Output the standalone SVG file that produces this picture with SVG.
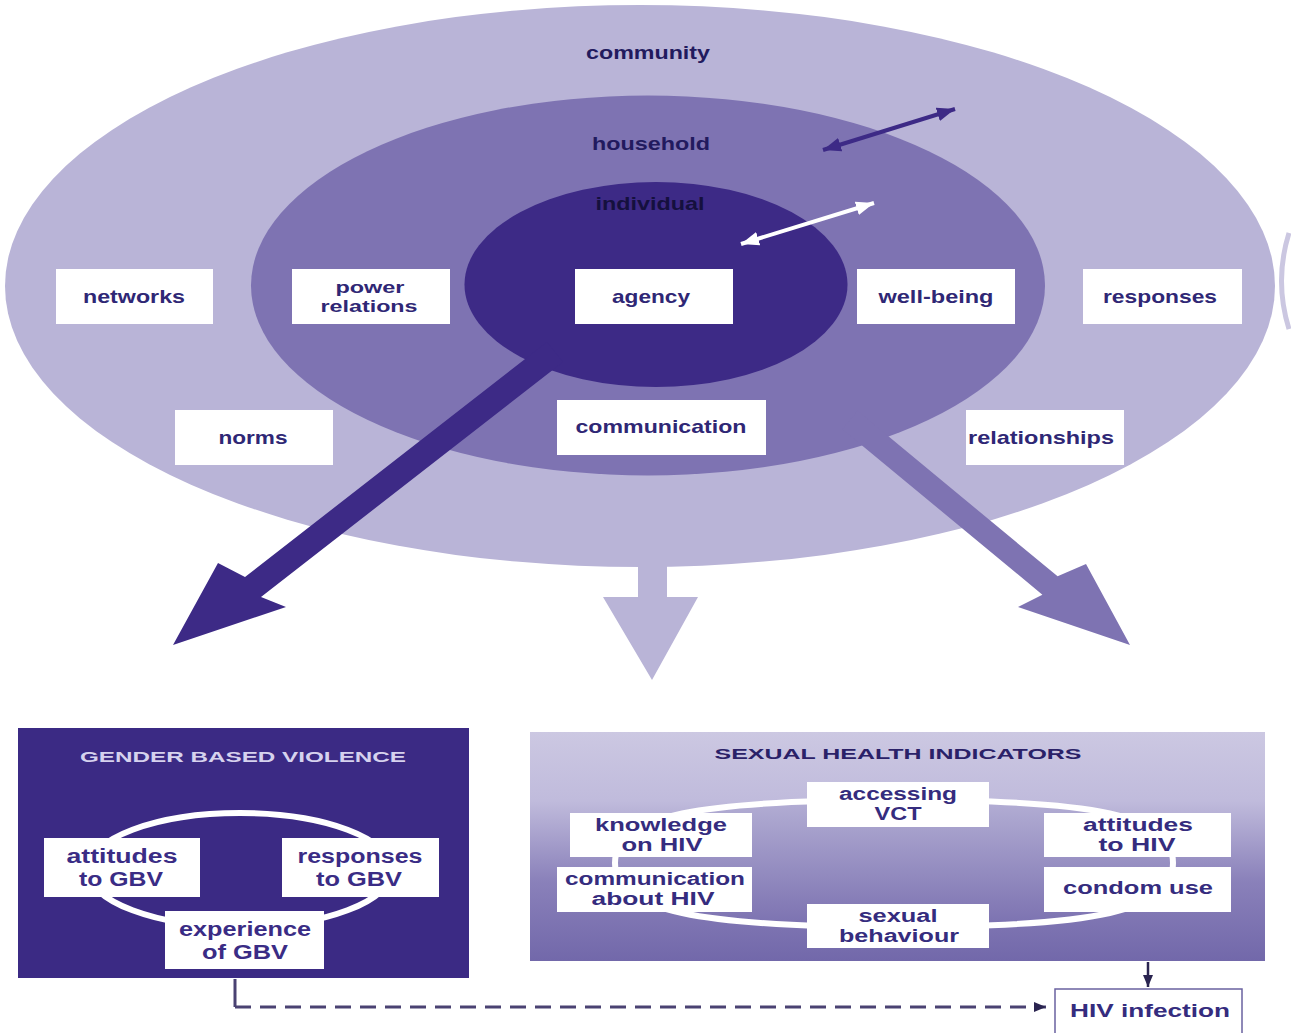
<svg xmlns="http://www.w3.org/2000/svg" width="1291" height="1033" viewBox="0 0 1291 1033">
<style>
  .lvl{font-family:"Liberation Sans",Arial,sans-serif;font-weight:700;font-size:19px;fill:#221a5e;text-anchor:middle;dominant-baseline:central}
  .box{fill:#ffffff}
  .lbl{font-family:"Liberation Sans",Arial,sans-serif;font-weight:700;font-size:19px;fill:#2f2775;text-anchor:middle;dominant-baseline:central}
  .lbl2{font-family:"Liberation Sans",Arial,sans-serif;font-weight:700;font-size:16px;fill:#2f2775;text-anchor:middle;dominant-baseline:central}
  .gbv{font-family:"Liberation Sans",Arial,sans-serif;font-weight:700;font-size:20px;fill:#3a2c85;text-anchor:middle;dominant-baseline:central}
  .shi{font-family:"Liberation Sans",Arial,sans-serif;font-weight:700;font-size:17.5px;fill:#352c7e;text-anchor:middle;dominant-baseline:central}
  .title{font-family:"Liberation Sans",Arial,sans-serif;font-weight:700;font-size:14px;text-anchor:middle;dominant-baseline:central}
</style>
<defs>
  <linearGradient id="shiGrad" x1="0" y1="0" x2="0" y2="1">
    <stop offset="0" stop-color="#ccc8e2"/>
    <stop offset="0.3" stop-color="#c0bbdc"/>
    <stop offset="0.65" stop-color="#8a81ba"/>
    <stop offset="1" stop-color="#7268aa"/>
  </linearGradient>
  <linearGradient id="ringGrad" x1="0" y1="0" x2="0" y2="1">
    <stop offset="0" stop-color="#b3aed4"/>
    <stop offset="1" stop-color="#7b71b0"/>
  </linearGradient>
  <marker id="hDark" viewBox="0 0 18 14" refX="18" refY="7" markerWidth="18" markerHeight="14" markerUnits="userSpaceOnUse" orient="auto-start-reverse">
    <path d="M0,0 L18,7 L0,14 z" fill="#3d2a86"/>
  </marker>
  <marker id="hWhite" viewBox="0 0 18 14" refX="18" refY="7" markerWidth="18" markerHeight="14" markerUnits="userSpaceOnUse" orient="auto-start-reverse">
    <path d="M0,0 L18,7 L0,14 z" fill="#ffffff"/>
  </marker>
  <marker id="hSmall" viewBox="0 0 12 10" refX="12" refY="5" markerWidth="12" markerHeight="10" markerUnits="userSpaceOnUse" orient="auto">
    <path d="M0,0 L12,5 L0,10 z" fill="#2a2450"/>
  </marker>
</defs>
<rect width="1291" height="1033" fill="#ffffff"/>

<!-- levels -->
<g id="community">
  <ellipse cx="640" cy="286" rx="635" ry="281" fill="#b9b4d7"/>
</g>
<path d="M1289,233 Q1274,281 1289,329" fill="none" stroke="#cbc7e1" stroke-width="5"/>
<g id="household">
  <ellipse cx="648" cy="285.5" rx="397" ry="190" fill="#7e73b2"/>
</g>
<g id="individual">
  <ellipse cx="656" cy="284.5" rx="191.5" ry="102.5" fill="#3d2a86"/>
</g>

<!-- connectors -->
<g id="connectors">
  <polygon points="547,342 563,362 261,597 286,607 173,645 218,563 245,577" fill="#3d2a86"/>
  <polygon points="857.6,410.8 1057.6,576.3 1086,564 1130,645 1018,607 1042.4,594.7 842.4,429.2" fill="#7e73b2"/>
  <polygon points="638,540 667,540 667,597 698,597 652,680 603,597 638,597" fill="#b9b4d7"/>
  <line x1="823" y1="150" x2="955" y2="109" stroke="#3d2a86" stroke-width="4" marker-start="url(#hDark)" marker-end="url(#hDark)"/>
  <line x1="741" y1="244" x2="874" y2="203" stroke="#ffffff" stroke-width="4" marker-start="url(#hWhite)" marker-end="url(#hWhite)"/>
  <line x1="1148" y1="962" x2="1148" y2="987" stroke="#2a2450" stroke-width="2.5" marker-end="url(#hSmall)"/>
  <line x1="235" y1="979" x2="235" y2="1007" stroke="#4a4272" stroke-width="3"/>
  <path d="M235,1007 H1046" fill="none" stroke="#4a4272" stroke-width="3" stroke-dasharray="16 9" marker-end="url(#hSmall)"/>
</g>

<text class="lvl" x="648" y="52" textLength="124" lengthAdjust="spacingAndGlyphs">community</text>
<text class="lvl" x="651" y="143" textLength="118" lengthAdjust="spacingAndGlyphs">household</text>
<text class="lvl" x="650" y="203" textLength="109" lengthAdjust="spacingAndGlyphs" style="fill:#15103e">individual</text>

<g id="networks"><rect class="box" x="56" y="269" width="157" height="55"/><text class="lbl" x="134" y="296" textLength="102" lengthAdjust="spacingAndGlyphs">networks</text></g>
<g id="power-relations"><rect class="box" x="292" y="269" width="158" height="55"/><text class="lbl2" x="370" y="287" textLength="69" lengthAdjust="spacingAndGlyphs">power</text><text class="lbl2" x="369" y="306" textLength="97" lengthAdjust="spacingAndGlyphs">relations</text></g>
<g id="agency"><rect class="box" x="575" y="269" width="158" height="55"/><text class="lbl" x="651" y="296" textLength="78" lengthAdjust="spacingAndGlyphs">agency</text></g>
<g id="well-being"><rect class="box" x="857" y="269" width="158" height="55"/><text class="lbl" x="936" y="296" textLength="115" lengthAdjust="spacingAndGlyphs">well-being</text></g>
<g id="responses"><rect class="box" x="1083" y="269" width="159" height="55"/><text class="lbl" x="1160" y="296" textLength="114" lengthAdjust="spacingAndGlyphs">responses</text></g>
<g id="norms"><rect class="box" x="175" y="410" width="158" height="55"/><text class="lbl" x="253" y="437" textLength="69" lengthAdjust="spacingAndGlyphs">norms</text></g>
<g id="communication"><rect class="box" x="557" y="400" width="209" height="55"/><text class="lbl" x="661" y="426" textLength="171" lengthAdjust="spacingAndGlyphs">communication</text></g>
<g id="relationships"><rect class="box" x="966" y="410" width="158" height="55"/><text class="lbl" x="1041" y="437" textLength="146" lengthAdjust="spacingAndGlyphs">relationships</text></g>

<!-- Gender based violence -->
<g id="gbv">
  <rect x="18" y="728" width="451" height="250" fill="#3b2a84"/>
  <text class="title" x="243" y="757" textLength="326" lengthAdjust="spacingAndGlyphs" style="fill:#d6d2ee">GENDER BASED VIOLENCE</text>
  <ellipse cx="240" cy="870" rx="152" ry="57" fill="none" stroke="#ffffff" stroke-width="6"/>
</g>
<g id="attitudes-gbv"><rect class="box" x="44" y="838" width="156" height="59"/><text class="gbv" x="122" y="856" textLength="111" lengthAdjust="spacingAndGlyphs">attitudes</text><text class="gbv" x="121" y="879" textLength="84" lengthAdjust="spacingAndGlyphs">to GBV</text></g>
<g id="responses-gbv"><rect class="box" x="282" y="838" width="157" height="59"/><text class="gbv" x="360" y="856" textLength="125" lengthAdjust="spacingAndGlyphs">responses</text><text class="gbv" x="359" y="879" textLength="86" lengthAdjust="spacingAndGlyphs">to GBV</text></g>
<g id="experience-gbv"><rect class="box" x="165" y="911" width="159" height="58"/><text class="gbv" x="245" y="929" textLength="132" lengthAdjust="spacingAndGlyphs">experience</text><text class="gbv" x="245" y="952" textLength="86" lengthAdjust="spacingAndGlyphs">of GBV</text></g>

<!-- Sexual health indicators -->
<g id="shi">
  <rect x="530" y="732" width="735" height="229" fill="url(#shiGrad)"/>
  <text class="title" x="898" y="754" textLength="367" lengthAdjust="spacingAndGlyphs" style="fill:#2a2168">SEXUAL HEALTH INDICATORS</text>
  <path d="M615,863 C615,815 700,800 898,800 C1096,800 1173,815 1173,863 C1173,911 1096,927 898,927 C700,927 615,911 615,863 Z" fill="url(#ringGrad)" stroke="#ffffff" stroke-width="6"/>
</g>
<g id="accessing-vct"><rect class="box" x="807" y="782" width="182" height="45"/><text class="shi" x="898" y="794" textLength="118" lengthAdjust="spacingAndGlyphs">accessing</text><text class="shi" x="898" y="814" textLength="47" lengthAdjust="spacingAndGlyphs">VCT</text></g>
<g id="knowledge-hiv"><rect class="box" x="570" y="813" width="182" height="44"/><text class="shi" x="661" y="825" textLength="132" lengthAdjust="spacingAndGlyphs">knowledge</text><text class="shi" x="662" y="845" textLength="81" lengthAdjust="spacingAndGlyphs">on HIV</text></g>
<g id="attitudes-hiv"><rect class="box" x="1044" y="813" width="187" height="44"/><text class="shi" x="1138" y="825" textLength="110" lengthAdjust="spacingAndGlyphs">attitudes</text><text class="shi" x="1137" y="845" textLength="77" lengthAdjust="spacingAndGlyphs">to HIV</text></g>
<g id="communication-hiv"><rect class="box" x="557" y="867" width="195" height="45"/><text class="shi" x="655" y="879" textLength="180" lengthAdjust="spacingAndGlyphs">communication</text><text class="shi" x="653" y="899" textLength="123" lengthAdjust="spacingAndGlyphs">about HIV</text></g>
<g id="condom-use"><rect class="box" x="1044" y="867" width="187" height="45"/><text class="shi" x="1138" y="888" textLength="150" lengthAdjust="spacingAndGlyphs">condom use</text></g>
<g id="sexual-behaviour"><rect class="box" x="807" y="904" width="182" height="44"/><text class="shi" x="898" y="916" textLength="79" lengthAdjust="spacingAndGlyphs">sexual</text><text class="shi" x="899" y="936" textLength="120" lengthAdjust="spacingAndGlyphs">behaviour</text></g>

<g id="hiv-infection"><rect x="1055" y="989" width="187" height="50" fill="#ffffff" stroke="#6a62a0" stroke-width="1.5"/><text class="shi" x="1150" y="1010" textLength="160" lengthAdjust="spacingAndGlyphs" style="font-size:19px">HIV infection</text></g>
</svg>
